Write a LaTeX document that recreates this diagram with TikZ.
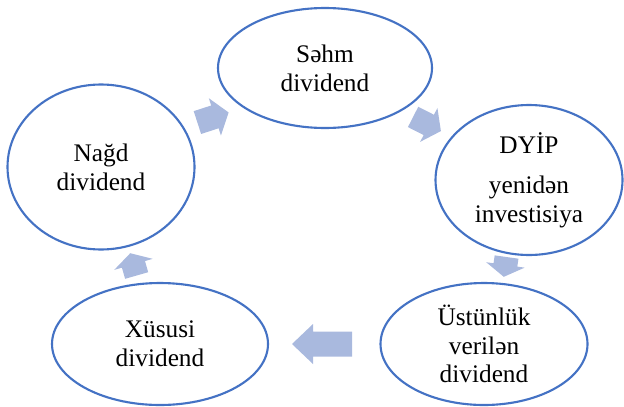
\documentclass[tikz,border=0pt]{standalone}
\usepackage{fontspec}
\setmainfont{Liberation Serif}
\usepackage{tikz}
\usetikzlibrary{shapes.geometric, calc}

\definecolor{ringblue}{RGB}{68,114,196}
\definecolor{arrowblue}{RGB}{169,185,222}

\tikzset{
  stage/.style={ellipse, draw=ringblue, line width=1.5pt, fill=white, inner sep=0pt,
    align=center, font=\fontsize{18}{20.5}\selectfont},
  pics/blockarrow/.style n args={4}{code={
    \fill[arrowblue] (-#1/2,-#3/2) -- (#1/2-#4,-#3/2) -- (#1/2-#4,-#2/2) -- (#1/2,0)
      -- (#1/2-#4,#2/2) -- (#1/2-#4,#3/2) -- (-#1/2,#3/2) -- cycle;
  }}
}

\begin{document}
\begin{tikzpicture}
  \useasboundingbox (0,0) rectangle (15.6,10.15);

  % Stages of the cycle
  \node[stage, minimum width=5.35cm, minimum height=3.0cm] (sehm) at (8.125,8.45) {Səhm\\dividend};
  \node[stage, minimum width=4.675cm, minimum height=4.125cm] (nagd) at (2.525,5.975) {Nağd\\dividend};
  \node[stage, minimum width=4.675cm, minimum height=3.75cm] (dyip) at (13.225,5.65) {DYİP\\[8pt]yenidən\\investisiya};
  \node[stage, minimum width=5.175cm, minimum height=3.05cm] (ustun) at (12.1,1.55) {Üstünlük\\verilən\\dividend};
  \node[stage, minimum width=5.4cm, minimum height=3.05cm] (xususi) at (4.0,1.55) {Xüsusi\\dividend};

  % Block arrows between stages
  \pic[rotate=18] at ($(nagd)!0.5!(sehm)$) {blockarrow={0.82}{0.98}{0.6}{0.36}};
  \pic[rotate=-27] at ($(sehm)!0.5!(dyip)$) {blockarrow={0.78}{0.95}{0.57}{0.34}};
  \pic[rotate=-98] at ($(dyip)!0.53!(ustun)$) {blockarrow={0.5}{0.97}{0.6}{0.3}};
  \pic[rotate=180] at ($(ustun)!0.5!(xususi)$) {blockarrow={1.5}{1.0}{0.625}{0.525}};
  \pic[rotate=106] at ($(xususi)!0.45!(nagd)$) {blockarrow={0.58}{1.0}{0.6}{0.29}};
\end{tikzpicture}
\end{document}
